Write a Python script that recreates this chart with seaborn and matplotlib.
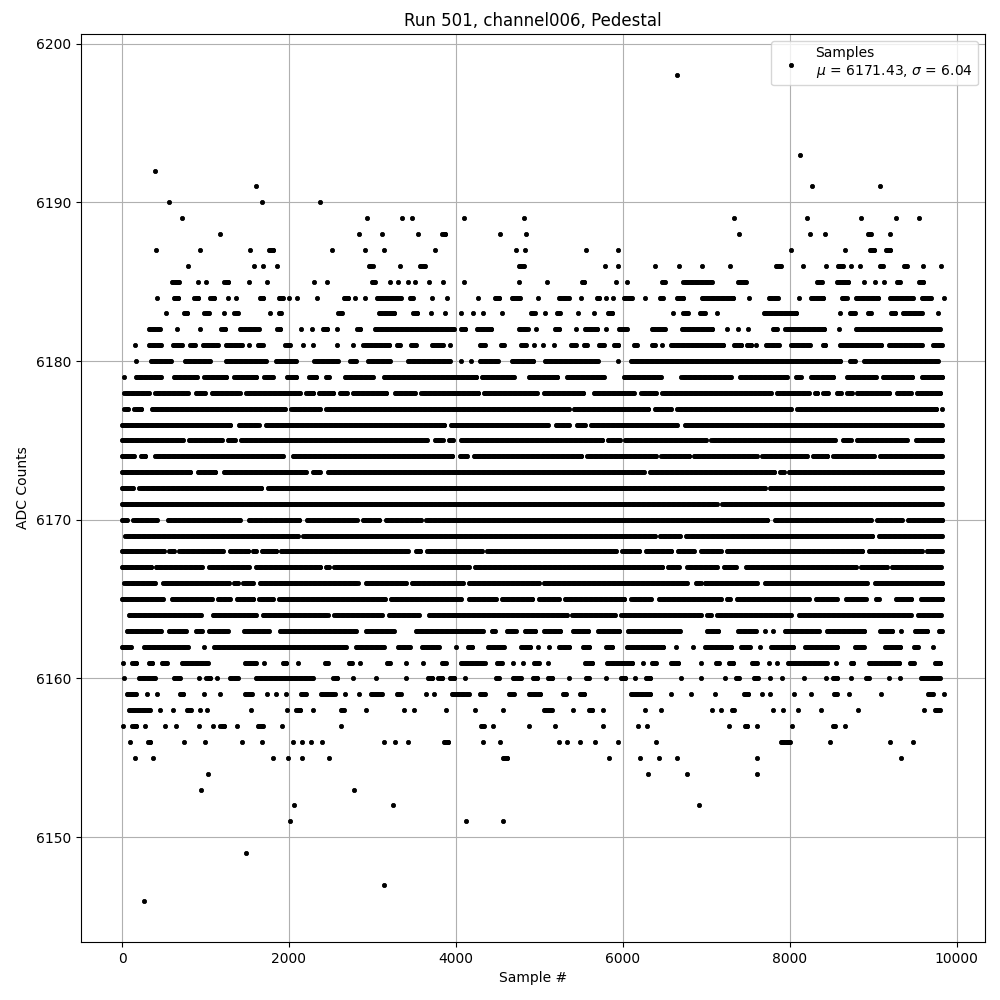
import numpy as np
import pandas as pd
import matplotlib
matplotlib.use("Agg")
import matplotlib.pyplot as plt
import seaborn as sns

# runs of samples: an int is a lone sample,
# a tuple (first, last) is the visible extent of a trail of neighbouring samples at that ADC value
runs_6198 = [6651]
runs_6193 = [8124]
runs_6192 = [389]
runs_6191 = [1605, 8268, 9082]
runs_6190 = [567, 1681, 2377]
runs_6189 = [723, 2934, 3357, 3477, 4100, 4819, 7334, 8208, 8855, 9274, 9549]
runs_6188 = [1178, 2838, 3110, 3549, (3837, 3873), 4531, 4843, 7394, 8244, 8423,
             (8914, 8998), 9202]
runs_6187 = [411, 938, 1537, (1758, 1806), 2519, 2915, 3142, 3753, 4723, 4831, 5561,
             5945, 8016, 8663, (8962, 9010), (9154, 9202)]
runs_6186 = [795, 1585, 1693, 1861, (2939, 3023), 3334, (3573, 3633), (4735, 4831),
             5789, 5945, 6387, 6680, 6951, 7286, (7837, 7897), 8160, 8435, (8579, 8639),
             8735, 8843, (9058, 9142), (9346, 9430), 9597, 9813]
runs_6185 = [(579, 699), 915, 1011, (1227, 1275), 1517, 1741, 2297, 2453, (2991, 3027),
             3214, 3310, 3430, 3514, 3681, 3849, 4100, 4759, 5094, (5489, 5561), 5921,
             6052, (6447, 6531), (6707, 7086), (7358, 7502), (8327, 8387), (8543, 8723),
             8890, 9022, 9130, (9262, 9346), (9549, 9597)]
runs_6184 = [423, (621, 673), (867, 915), (1059, 1107), 1275, 1371, (1633, 1709),
             (1877, 1925), 1997, 2093, 2333, (2657, 2705), 2793, 2909, (3035, 3357),
             (3430, 3502), 3717, 3897, 4268, (4447, 4543), (4651, 4783), 4986, (5214, 5370),
             5501, (5669, 5741), 5801, 5885, (5993, 6136), 6267, (6423, 6507), (6627, 6747),
             (6927, 7346), 7513, (7729, 7885), 8112, (8232, 8423), (8603, 8703), (8771, 9082),
             (9178, 9501), (9561, 9717), 9849]
runs_6183 = [531, (723, 795), (965, 1061), 1217, (1325, 1409), 1769, (1877, 1901),
             (2573, 2657), (3053, 3274), (3490, 3538), 3705, 3873, 4064, 4208, 4328, 4555,
             (4879, 4963), 5070, (5190, 5274), 5465, 5657, (5801, 5897), 6603, (6707, 6807),
             (6927, 6987), 7130, (7669, 8100), 8603, (8723, 8783), (8914, 8998), (9214, 9262),
             (9334, 9609), 9777]
runs_6182 = [(303, 471), 663, 939, (1191, 1239), (1393, 1657), (1841, 1913), 2141, 2273,
             (2405, 2453), 2573, (2801, 2873), (3005, 3994), (4064, 4112), (4232, 4447),
             (4735, 4879), 4963, (5166, 5262), 5441, (5525, 5717), 5801, (5933, 6076),
             (6327, 6531), (6687, 7090), 7250, 7382, 7502, (7777, 7873), (7929, 8435), 8591,
             (8771, 9825)]
runs_6181 = [149, (303, 483), (591, 735), (819, 879), (951, 1167), (1227, 1455), 1517,
             (1625, 1685), (1937, 2033), 2165, 2285, 2573, 2765, (2873, 3214), (3274, 3346),
             (3442, 3538), (3693, 3861), 3932, (4268, 4364), (4519, 4591), (4783, 4843), 4938,
             5046, 5178, (5382, 5441), (5513, 5597), (5717, 5777), (5897, 5945), (6112, 6196),
             (6327, 6411), 6471, (6555, 7226), (7310, 7442), (7490, 7538), 7597, (7693, 7897),
             (7992, 8268), (8375, 8447), (8579, 9118), (9166, 9609), (9693, 9849)]
runs_6180 = [172, (327, 603), (735, 1071), (1227, 1741), (1825, 2101), (2285, 2609),
             (2717, 2825), (2929, 3234), (3405, 3944), 4064, 4184, (4268, 4531), (4651, 4950),
             (5046, 5729), 5945, (6076, 8623), (8723, 8783), (8867, 9801)]
runs_6179 = [20, (147, 487), (599, 914), (966, 1265), (1325, 1624), (1684, 1824),
             (1956, 2104), (2223, 2343), (2423, 2503), (2650, 3022), (3121, 4259), (4291, 4718),
             (4858, 5238), (5309, 5796), (5996, 6475), (6682, 7313), (7385, 7992), (8072, 8132),
             (8231, 8543), (8662, 9061), (9101, 9489), (9561, 9849)]
runs_6178 = [(8, 348), (380, 808), (868, 1008), (1060, 1428), (1468, 2148), (2188, 2308),
             (2340, 2548), (2588, 2716), (2748, 3180), (3248, 3528), (3568, 4288), (4316, 4998),
             (5038, 5549), (5636, 6155), (6203, 6415), (6455, 7800), (7824, 8251), (8279, 8351),
             (8383, 8479), (8543, 8639), (8691, 8750), (8790, 9209), (9261, 9469), (9509, 9820)]
runs_6177 = [(8, 88), (128, 248), (340, 1968), (2008, 2388), (2428, 5377), (5397, 6323),
             (6363, 6595), (6634, 8032), (8072, 9780), 9828]
runs_6176 = [(0, 1313), (1377, 1657), (1704, 3880), (3920, 5125), (5177, 5377), (5429, 5564),
             (5596, 6666), (6722, 9849)]
runs_6175 = [(0, 754), (778, 1218), (1250, 1377), (1405, 3680), (3732, 3860), (3900, 3980),
             (4040, 5776), (5804, 5988), (6004, 7014), (7042, 8559), (8622, 8750), (8790, 9429),
             (9489, 9849)]
runs_6174 = [(0, 168), (208, 299), (380, 1944), (2024, 3972), (4028, 4148), (4200, 5525),
             (5557, 6415), (6443, 6814), (6834, 7624), (7652, 8231), (8263, 8471), (8503, 9030),
             (9062, 9849)]
runs_6173 = [(0, 834), (886, 1137), (1197, 2223), (2263, 2391), (2443, 6275), (6303, 7832),
             (7880, 7932), (7972, 9849)]
runs_6172 = [(0, 148), (188, 1684), (1732, 7720), (7744, 9849)]
runs_6171 = [(0, 7145), (7173, 9849)]
runs_6170 = [(0, 60), (116, 435), (527, 1433), (1497, 2143), (2191, 2830), (2862, 3101),
             (3141, 3600), (3628, 7752), (7800, 8990), (9030, 9369), (9397, 9849)]
runs_6169 = [(20, 2124), (2152, 6403), (6427, 6706), (6734, 9010), (9050, 9849)]
runs_6168 = [(0, 527), (567, 618), (666, 1225), (1273, 1525), (1565, 1605), (1656, 1864),
             (1884, 3441), (3501, 3589), (3640, 4331), (4359, 5936), (5976, 6215), (6255, 6603),
             (6642, 6874), (6914, 7193), (7225, 8890), (8930, 9609), (9629, 9849)]
runs_6167 = [(0, 367), (387, 978), (1026, 1545), (1585, 2391), (2443, 2483), (2523, 4179),
             (4211, 6495), (6523, 6694), (6754, 7153), (7193, 7373), (7453, 8810), (8830, 9181),
             (9209, 9829)]
runs_6166 = [(8, 419), (475, 1305), (1337, 1385), (1433, 1585), (1632, 2842), (2902, 3421),
             (3449, 4100), (4140, 5018), (5038, 6786), (6874, 6934), (6962, 7632), (7680, 8950),
             (8998, 9849)]
runs_6165 = [(0, 515), (579, 1097), (1125, 1313), (1353, 1593), (1625, 1824), (1864, 3173),
             (3201, 4080), (4140, 4499), (4531, 4938), (4978, 5257), (5285, 6036), (6084, 6355),
             (6415, 7193), (7225, 7305), (7345, 8251), (8291, 8582), (8650, 8930), (9030, 9070),
             (9249, 9477), (9549, 9849)]
runs_6164 = [(60, 966), (1066, 1624), (1664, 2483), (2523, 3133), (3181, 3580), (3660, 5349),
             (5377, 5924), (5964, 6954), (6994, 7074), (7114, 8032), (8092, 9469), (9517, 9829)]
runs_6163 = [(40, 483), (543, 783), (867, 975), (1023, 1287), (1441, 1777), (1873, 2819),
             (2902, 3274), (3501, 4340), (4411, 4495), (4591, 4735), (4807, 4974), (5034, 5274),
             (5381, 5609), (5681, 5980), (6040, 6707), (6987, 7166), (7358, 7621), 7705, 7801,
             (7920, 8375), (8423, 8914), (9058, 9250), 9334, (9477, 9669), (9765, 9849)]
runs_6162 = [(0, 124), (243, 807), 986, (1082, 2699), (2782, 3154), (3286, 3465),
             (3573, 3813), 4004, (4148, 4196), (4364, 4591), (4759, 4914), 4986, 5118,
             (5214, 5381), (5501, 5621), (5777, 5897), (6028, 6507), 6639, 6843, (6962, 7322),
             (7394, 7549), 7645, (7753, 8064), (8160, 8591), (8759, 8914), (9118, 9346),
             (9465, 9561), 9717]
runs_6161 = [16, (124, 172), (303, 375), (459, 555), (699, 1046), (1453, 1621), 1705,
             (1909, 1981), 2112, (2411, 2483), (2699, 2771), 2854, (3154, 3226), 3405, 3609,
             (3813, 3897), (4040, 4364), (4495, 4555), 4687, 4807, (4938, 4998), 5106,
             (5525, 5657), (5789, 6136), 6244, (6327, 6423), (6555, 6687), 6939, (7094, 7178),
             (7274, 7322), (7549, 7609), 7753, 7849, (7956, 8471), 8555, (8711, 8783),
             (8927, 9334), (9418, 9513), (9717, 9825)]
runs_6160 = [28, (184, 411), (603, 711), 926, (1010, 1058), 1142, (1273, 1405), (1585, 2303),
             (2531, 2579), 2770, 3046, 3405, (3669, 3717), (3789, 3837), (3932, 3980), 4112,
             (4459, 4543), (4663, 4795), (4926, 4974), (5082, 5178), 5357, (5537, 5621), 5801,
             (5957, 6052), 6148, (6280, 6327), 6700, 6939, 7226, (7334, 7418), (7549, 7645),
             7765, 7908, 8172, 8435, (8519, 8567), 8735, (8914, 8950), 9190, 9322, (9549, 9825)]
runs_6159 = [(40, 184), 303, 423, (675, 747), 986, 1178, (1453, 1573), 1741, 1849, 1968,
             (2124, 2220), (2363, 2567), 2675, 2842, (2962, 3130), (3274, 3357), 3645, 3741,
             (3932, 4172), (4268, 4364), (4615, 4711), (4855, 5034), (5262, 5345), (5489, 5537),
             (6076, 6351), 6579, 6819, 7106, (7453, 7501), 7669, 7765, 8052, 8256, (8531, 8567),
             8711, 9094, (9657, 9717), 9849]
runs_6158 = [(64, 352), 459, 615, (759, 843), 939, 1022, 1549, 1980, (2088, 2136), 2292,
             (2603, 2675), 2926, 3381, 3501, 3884, 4232, 4567, (5034, 5178), 5405, (5597, 5633),
             5765, 6268, 6459, 7070, 7178, (7310, 7334), 7801, 7920, 8100, 8375, 8819, 9609,
             (9741, 9801)]
runs_6157 = [16, (124, 172), 279, 519, 651, 926, 1094, (1178, 1226), 1381, (1609, 1705),
             1920, 2627, (4280, 4352), 4447, 4878, 5190, 5765, 6184, 6292, 7274, (7442, 7513),
             7609, 8028, (8519, 8543), 8663]
runs_6156 = [100, (315, 339), 747, 998, 1441, 1681, 2052, 2160, 2268, 2400, 3142, 3274,
             3430, (3860, 3908), 4328, 4531, 5238, 5334, 5489, 5669, 5945, 6399, (7873, 8028),
             8483, 9202, 9477]
runs_6155 = [160, 375, 1812, 1992, 2160, 2483, (4567, 4615), 5837, 6208, 6435, 6651, 7609, 9334]
runs_6154 = [1034, 6304, 6771, 7609]
runs_6153 = [950, 2782]
runs_6152 = [2064, 3250, 6915]
runs_6151 = [2016, 4124, 4567]
runs_6149 = [1489]
runs_6147 = [3142]
runs_6146 = [268]

legend_label = "Samples\n$\\mu$ = 6171.43, $\\sigma$ = 6.04"

runs = {
    6198: runs_6198, 6193: runs_6193, 6192: runs_6192, 6191: runs_6191, 6190: runs_6190,
    6189: runs_6189, 6188: runs_6188, 6187: runs_6187, 6186: runs_6186, 6185: runs_6185,
    6184: runs_6184, 6183: runs_6183, 6182: runs_6182, 6181: runs_6181, 6180: runs_6180,
    6179: runs_6179, 6178: runs_6178, 6177: runs_6177, 6176: runs_6176, 6175: runs_6175,
    6174: runs_6174, 6173: runs_6173, 6172: runs_6172, 6171: runs_6171, 6170: runs_6170,
    6169: runs_6169, 6168: runs_6168, 6167: runs_6167, 6166: runs_6166, 6165: runs_6165,
    6164: runs_6164, 6163: runs_6163, 6162: runs_6162, 6161: runs_6161, 6160: runs_6160,
    6159: runs_6159, 6158: runs_6158, 6157: runs_6157, 6156: runs_6156, 6155: runs_6155,
    6154: runs_6154, 6153: runs_6153, 6152: runs_6152, 6151: runs_6151, 6149: runs_6149,
    6147: runs_6147, 6146: runs_6146,
}

# turn the trails into sample rows; a trail's visible extent includes the dot radius (~20 samples)
xs, ys = [], []
for lv, rr in runs.items():
    for r in rr:
        if isinstance(r, tuple):
            a, b = r
            if b - a > 60:
                a = a + 20 if a > 0 else 0
                b = b - 20
            pts = list(range(a, b + 1, 15))
            if pts[-1] != b:
                pts.append(b)
        else:
            pts = [r]
        xs.extend(pts)
        ys.extend([lv] * len(pts))

df = pd.DataFrame({"Sample #": xs, "ADC Counts": ys})

fig, ax = plt.subplots(figsize=(10, 10), dpi=100)
sns.scatterplot(data=df, x="Sample #", y="ADC Counts", color="k", marker=".",
                s=36, linewidth=0.6, edgecolor="k", label=legend_label, zorder=2, ax=ax)
ax.grid(True)
ax.set_title("Run 501, channel006, Pedestal")
ax.legend(loc="upper right")
fig.subplots_adjust(left=0.081, right=0.985, top=0.966, bottom=0.058)
fig.savefig("out.png")
